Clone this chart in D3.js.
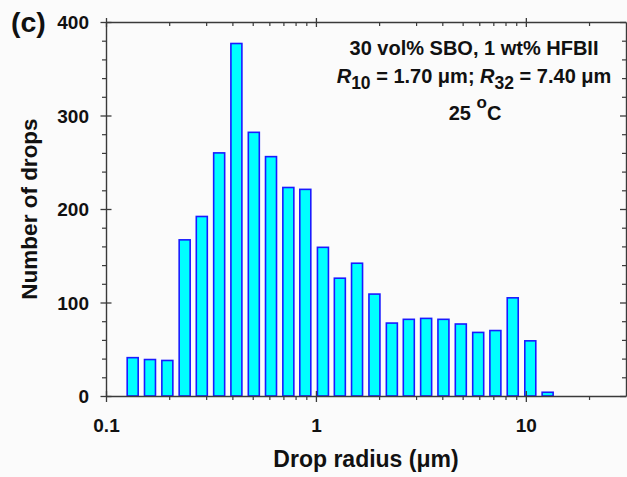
<!DOCTYPE html>
<html>
<head>
<meta charset="utf-8">
<script src="https://cdn.jsdelivr.net/npm/d3@7"></script>
<style>
  html, body { margin: 0; padding: 0; background: #fbfbfb; }
  svg { display: block; }
  text { font-family: "Liberation Sans", Arial, Helvetica, sans-serif; font-weight: bold; fill: #111; }
</style>
</head>
<body>
<script>
// ---- data ----
const radii  = [0.134, 0.162, 0.196, 0.237, 0.286, 0.346, 0.418, 0.506, 0.611, 0.739, 0.890,
                1.08, 1.30, 1.57, 1.90, 2.30, 2.77, 3.35, 4.05, 4.90, 5.93, 7.16, 8.66, 10.5, 12.7];
const counts = [41, 39, 38, 167, 192, 260, 377, 282, 256, 223, 221,
                159, 126, 142, 109, 78, 82, 83, 82, 77, 68, 70, 105, 59, 4];
const xMajorTicks = [0.1, 1, 10];
const xTickLabels = ["0.1", "1", "10"];
const yMajorTicks = [0, 100, 200, 300, 400];
const yTickLabels = ["0", "100", "200", "300", "400"];

const W = 627, H = 477;
const svg = d3.select("body").append("svg").attr("width", W).attr("height", H);

const x = d3.scaleLog().domain([0.1, 30]).range([106, 626]);
const y = d3.scaleLinear().domain([0, 400]).range([396, 22]);

const xMinor = [];
[0.1, 1, 10].forEach(d => { for (let k = 2; k <= 9; k++) { const v = d * k; if (v < 30) xMinor.push(v); } });
const yMinor = d3.range(0, 401, 20).filter(v => v % 100 !== 0);

const axisColor = "#3a3a3a";
const halfW = Math.pow(10, 5.5 / 210);

// bars
svg.append("g").selectAll("rect").data(radii).join("rect")
  .attr("x", d => x(d / halfW))
  .attr("width", d => x(d * halfW) - x(d / halfW))
  .attr("y", (d, i) => y(counts[i]))
  .attr("height", (d, i) => y(0) - y(counts[i]))
  .attr("fill", "#00ffff")
  .attr("stroke", "#1a1aff")
  .attr("stroke-width", 1.6);

const gAx = svg.append("g");
const labelStyle = sel => sel.attr("font-size", 19)
  .style("font-family", "'Liberation Sans', Arial, sans-serif").style("font-weight", "bold").attr("fill", "#111");

// Bottom minor (outward)
let g = gAx.append("g").attr("transform", "translate(0,396)")
  .call(d3.axisBottom(x).tickValues(xMinor).tickSize(4).tickSizeOuter(0).tickFormat(""));
g.select(".domain").attr("stroke", axisColor).attr("stroke-width", 1.4);
g.selectAll(".tick line").attr("stroke", axisColor).attr("stroke-width", 1.2);
// Bottom major (crossing)
g = gAx.append("g").attr("transform", "translate(0,396)")
  .call(d3.axisBottom(x).tickValues(xMajorTicks).tickSize(6).tickSizeOuter(0).tickFormat((d, i) => xTickLabels[i]));
g.select(".domain").remove();
g.selectAll(".tick line").attr("y1", -5).attr("stroke", axisColor).attr("stroke-width", 1.3);
g.selectAll(".tick text").attr("y", 0).attr("dy", 35.5).call(labelStyle);

// Top minor (inward)
g = gAx.append("g").attr("transform", "translate(0,22)")
  .call(d3.axisBottom(x).tickValues(xMinor).tickSize(4).tickSizeOuter(0).tickFormat(""));
g.select(".domain").attr("stroke", axisColor).attr("stroke-width", 1.4);
g.selectAll(".tick line").attr("stroke", axisColor).attr("stroke-width", 1.2);
// Top major (crossing)
g = gAx.append("g").attr("transform", "translate(0,22)")
  .call(d3.axisBottom(x).tickValues(xMajorTicks).tickSize(5).tickSizeOuter(0).tickFormat(""));
g.select(".domain").remove();
g.selectAll(".tick line").attr("y1", -4).attr("stroke", axisColor).attr("stroke-width", 1.3);

// Left minor (outward)
g = gAx.append("g").attr("transform", "translate(106,0)")
  .call(d3.axisLeft(y).tickValues(yMinor).tickSize(4).tickSizeOuter(0).tickFormat(""));
g.select(".domain").attr("stroke", axisColor).attr("stroke-width", 1.4);
g.selectAll(".tick line").attr("stroke", axisColor).attr("stroke-width", 1.2);
// Left major (crossing)
g = gAx.append("g").attr("transform", "translate(106,0)")
  .call(d3.axisLeft(y).tickValues(yMajorTicks).tickSize(5.5).tickSizeOuter(0).tickFormat((d, i) => yTickLabels[i]));
g.select(".domain").remove();
g.selectAll(".tick line").attr("x1", 5.5).attr("stroke", axisColor).attr("stroke-width", 1.3);
g.selectAll(".tick text").attr("x", -17).attr("dy", 6.8).call(labelStyle);

// Right minor (inward)
g = gAx.append("g").attr("transform", "translate(626,0)")
  .call(d3.axisLeft(y).tickValues(yMinor).tickSize(4).tickSizeOuter(0).tickFormat(""));
g.select(".domain").attr("stroke", axisColor).attr("stroke-width", 1.4);
g.selectAll(".tick line").attr("stroke", axisColor).attr("stroke-width", 1.2);
g = gAx.append("g").attr("transform", "translate(626,0)")
  .call(d3.axisLeft(y).tickValues(yMajorTicks).tickSize(6).tickSizeOuter(0).tickFormat(""));
g.select(".domain").remove();
g.selectAll(".tick line").attr("stroke", axisColor).attr("stroke-width", 1.3);

// axis titles
svg.append("text").attr("x", 366).attr("y", 467).attr("text-anchor", "middle")
  .attr("font-size", 23).text("Drop radius (\u03bcm)");
svg.append("text").attr("transform", "translate(37,209) rotate(-90)").attr("text-anchor", "middle")
  .attr("font-size", 22.5).text("Number of drops");

// panel label
svg.append("text").attr("x", 11).attr("y", 32).attr("font-size", 28.5).text("(c)");

// annotation
svg.append("text").attr("x", 474).attr("y", 55).attr("text-anchor", "middle")
  .attr("font-size", 20).text("30 vol% SBO, 1 wt% HFBII");
const t2 = svg.append("text").attr("x", 474).attr("y", 83.3).attr("text-anchor", "middle").attr("font-size", 20);
t2.append("tspan").attr("font-style", "italic").text("R");
t2.append("tspan").attr("font-size", 17.5).attr("dy", 6).text("10");
t2.append("tspan").attr("dy", -6).text(" = 1.70 \u03bcm; ");
t2.append("tspan").attr("font-style", "italic").text("R");
t2.append("tspan").attr("font-size", 17.5).attr("dy", 6).text("32");
t2.append("tspan").attr("dy", -6).text(" = 7.40 \u03bcm");
const t3 = svg.append("text").attr("x", 475).attr("y", 120).attr("text-anchor", "middle").attr("font-size", 20);
t3.append("tspan").text("25 ");
t3.append("tspan").attr("font-size", 17).attr("dy", -12).text("o");
t3.append("tspan").attr("dy", 12).text("C");
</script>
</body>
</html>
